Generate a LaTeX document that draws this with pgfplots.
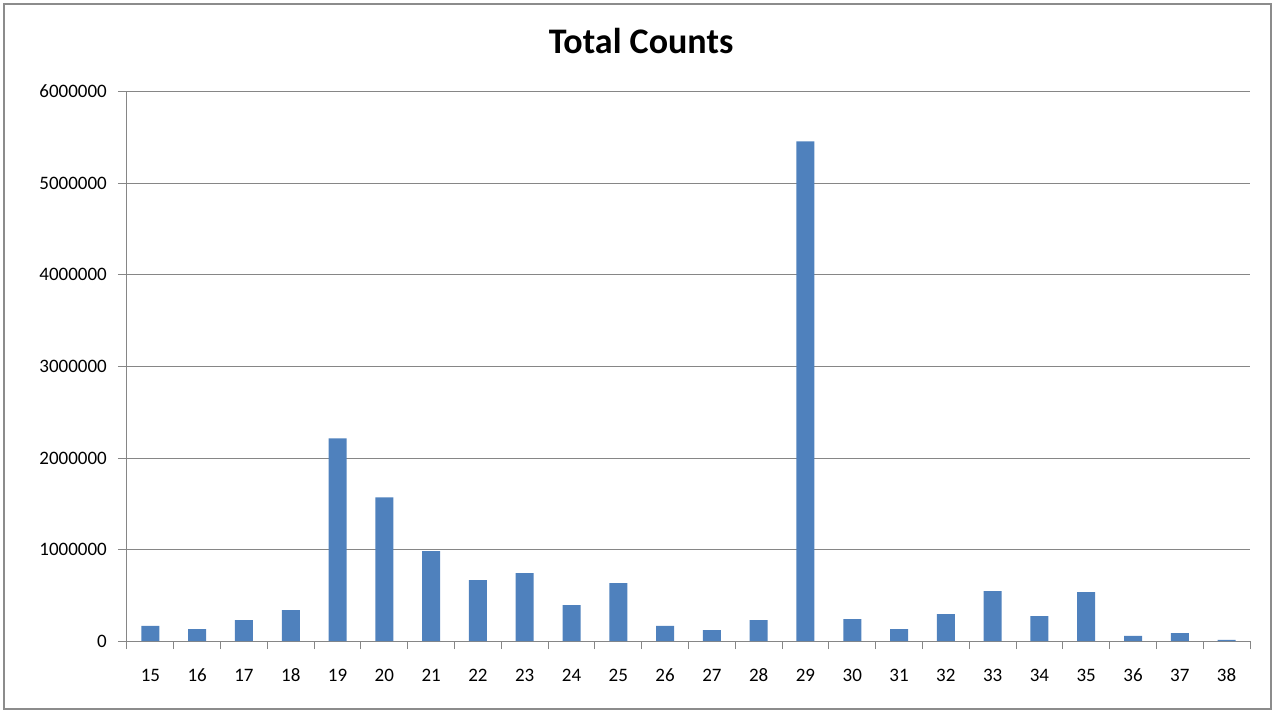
\documentclass[border=0pt]{standalone}
\usepackage{pgfplots}
\pgfplotsset{compat=1.18}
\usepackage{fontspec}
\setmainfont{Carlito}
\definecolor{barblue}{HTML}{4F81BD}
\definecolor{gridgray}{HTML}{868686}
\definecolor{framegray}{HTML}{8C8C8C}
\begin{document}
\begin{tikzpicture}[x=1pt,y=1pt]
\useasboundingbox (-127,-71) rectangle (1149,641);
\draw[framegray, line width=2pt] (-122.5,-67.5) rectangle (1144,636.5);
\node[anchor=base, font=\fontsize{36}{42}\selectfont\bfseries] at (514,587) {Total Counts};
\begin{axis}[
  at={(0,0)}, anchor=south west,
  scale only axis, width=1123pt, height=549pt,
  xmin=-0.5, xmax=23.5, ymin=0, ymax=6000000,
  axis x line=bottom, axis y line=left,
  axis line style={-, draw=gridgray, line width=1pt},
  ybar, bar width=18pt,
  xtick={0,...,23},
  xticklabels={15,16,17,18,19,20,21,22,23,24,25,26,27,28,29,30,31,32,33,34,35,36,37,38},
  minor xtick={-0.5,0.5,...,23.5},
  major x tick style={draw=none},
  minor x tick style={draw=gridgray, line width=1pt},
  minor tick length=8pt,
  ytick={0,1000000,...,6000000},
  scaled y ticks=false,
  yticklabel={\pgfmathprintnumber[fixed,1000 sep={},precision=0]{\tick}},
  /pgf/number format/assume math mode=true,
  major y tick style={draw=gridgray, line width=1pt},
  major tick length=9pt,
  tick align=outside,
  ymajorgrids, grid style={draw=gridgray, line width=1pt},
  tick label style={font=\fontsize{19}{22}\selectfont},
  xticklabel style={anchor=base, inner sep=0pt, yshift=-31pt},
  yticklabel style={anchor=base east, inner sep=0pt, xshift=-11pt, yshift=-6pt},
  clip=false,
]
\addplot[fill=barblue, draw=none] coordinates {
(0,164000) (1,131000) (2,229000) (3,338000) (4,2215000) (5,1571000)
(6,982000) (7,665000) (8,742000) (9,393000) (10,633000) (11,164000)
(12,120000) (13,229000) (14,5460000) (15,240000) (16,131000) (17,295000)
(18,545000) (19,273000) (20,535000) (21,55000) (22,87000) (23,11000)
};
\end{axis}
\end{tikzpicture}
\end{document}
